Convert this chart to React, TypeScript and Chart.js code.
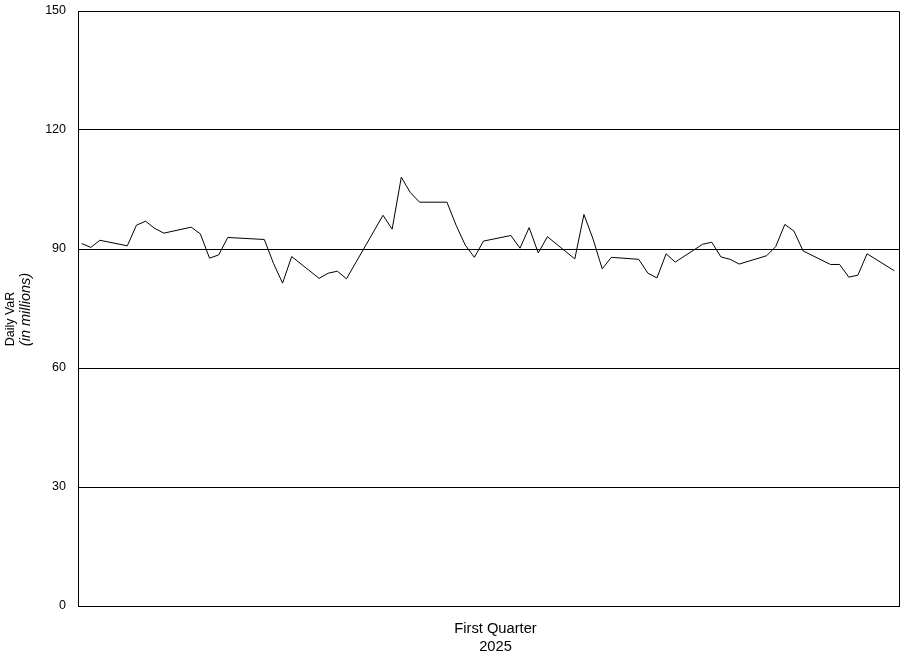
import React, { useRef, useEffect } from 'react';
import { Chart, registerables } from 'chart.js';

Chart.register(...registerables);

// trading days of Q1 2025 (month-day)
const tradeDates = [
  '01-01', '01-02', '01-03', '01-06', '01-07', '01-08', '01-09', '01-10',
  '01-13', '01-14', '01-15', '01-16', '01-17', '01-21', '01-22', '01-23',
  '01-24', '01-27', '01-28', '01-29', '01-30', '01-31', '02-03', '02-04',
  '02-05', '02-06', '02-07', '02-10', '02-11', '02-12', '02-13', '02-14',
  '02-17', '02-18', '02-19', '02-20', '02-21', '02-24', '02-25', '02-26',
  '02-27', '02-28', '03-03', '03-04', '03-05', '03-06', '03-07', '03-10',
  '03-11', '03-12', '03-13', '03-14', '03-17', '03-18', '03-19', '03-20',
  '03-21', '03-24', '03-25', '03-26', '03-27', '03-28', '03-31',
];

// daily VaR, in millions
const varValues = [
  91.4, 90.4, 92.2, 90.8, 96.0, 97.0, 95.2, 94.0,
  95.5, 93.8, 87.7, 88.5, 92.9, 92.4, 86.4, 81.4,
  88.1, 82.6, 83.9, 84.4, 82.5, 86.5, 98.5, 95.0,
  108.1, 104.2, 101.8, 101.8, 96.0, 91.0, 87.9, 92.0,
  93.4, 90.2, 95.4, 89.0, 93.1, 87.5, 98.7, 92.5,
  85.0, 87.9, 87.4, 83.9, 82.7, 88.8, 86.7, 91.2,
  91.7, 88.0, 87.4, 86.2, 88.3, 90.6, 96.2, 94.5,
  89.5, 86.1, 86.1, 82.9, 83.4, 88.8, 84.5,
];

const yTicks = [0, 30, 60, 90, 120, 150];
const yTitle = ['Daily VaR', '(in millions)'];
const xTitle = ['First Quarter', '2025'];

const FONT = '"Liberation Sans", Arial, sans-serif';

const dayIndex = (md: string) => {
  const [m, d] = md.split('-').map(Number);
  return (Date.UTC(2025, m - 1, d) - Date.UTC(2025, 0, 1)) / 86400000;
};

// titles and the right/top frame of the plot box
const framePlugin = {
  id: 'frameAndTitles',
  afterDraw(chart: any) {
    const { ctx, chartArea } = chart;
    const { left, right, top, bottom } = chartArea;
    ctx.save();
    ctx.strokeStyle = '#000';
    ctx.lineWidth = 1;
    ctx.beginPath();
    ctx.moveTo(Math.round(left) + 0.5, Math.round(top) + 0.5);
    ctx.lineTo(Math.round(right) + 0.5, Math.round(top) + 0.5);
    ctx.lineTo(Math.round(right) + 0.5, Math.round(bottom) + 0.5);
    ctx.stroke();

    ctx.fillStyle = '#000';
    ctx.textAlign = 'center';
    ctx.textBaseline = 'alphabetic';

    // y title, rotated
    ctx.save();
    ctx.translate(14, 319);
    ctx.rotate(-Math.PI / 2);
    ctx.font = `12.5px ${FONT}`;
    ctx.fillText(yTitle[0], 0, 0);
    ctx.restore();
    ctx.save();
    ctx.translate(30, 309.5);
    ctx.rotate(-Math.PI / 2);
    ctx.font = `italic 14.5px ${FONT}`;
    ctx.fillText(yTitle[1], 0, 0);
    ctx.restore();

    // x title
    ctx.font = `14.7px ${FONT}`;
    ctx.fillText(xTitle[0], 495.5, 633);
    ctx.fillText(xTitle[1], 495.5, 651);
    ctx.restore();
  },
};

const VarChart: React.FC = () => {
  const canvasRef = useRef<HTMLCanvasElement>(null);
  const chartRef = useRef<Chart | null>(null);

  useEffect(() => {
    if (!canvasRef.current) return;
    if (chartRef.current) chartRef.current.destroy();

    const points = tradeDates.map((d, i) => ({ x: dayIndex(d), y: varValues[i] }));

    chartRef.current = new Chart(canvasRef.current, {
      type: 'line',
      data: {
        datasets: [
          {
            label: 'Daily VaR',
            data: points,
            borderColor: '#000',
            borderWidth: 1,
            pointRadius: 0,
            tension: 0,
            fill: false,
          },
        ],
      },
      options: {
        animation: false,
        responsive: true,
        maintainAspectRatio: false,
        layout: { padding: { left: 0, top: 11, right: 6, bottom: 0 } },
        plugins: {
          legend: { display: false },
          tooltip: { enabled: false },
        },
        scales: {
          x: {
            type: 'linear',
            min: -0.4,
            max: 89.5,
            ticks: { display: false },
            grid: { display: false, drawTicks: false },
            border: { display: true, color: '#000', width: 1 },
            afterFit: (scale: any) => {
              scale.height = 47;
              scale.paddingLeft = 0;
              scale.paddingRight = 0;
            },
          },
          y: {
            min: 0,
            max: 150,
            afterBuildTicks: (scale: any) => {
              scale.ticks = yTicks.map((v) => ({ value: v }));
            },
            ticks: {
              color: '#000',
              padding: 12,
              font: { family: FONT, size: 12.5 },
            },
            grid: { color: '#000', lineWidth: 1, drawTicks: false },
            border: { display: true, color: '#000', width: 1 },
            afterFit: (scale: any) => {
              scale.width = 78;
              scale.paddingTop = 0;
              scale.paddingBottom = 0;
            },
          },
        },
      },
      plugins: [framePlugin],
    });

    return () => {
      if (chartRef.current) {
        chartRef.current.destroy();
        chartRef.current = null;
      }
    };
  }, []);

  return (
    <div style={{ position: 'fixed', left: 0, top: 0, width: '905px', height: '653px', background: '#fff' }}>
      <canvas ref={canvasRef}></canvas>
    </div>
  );
};

export default function App() {
  return <VarChart />;
}
